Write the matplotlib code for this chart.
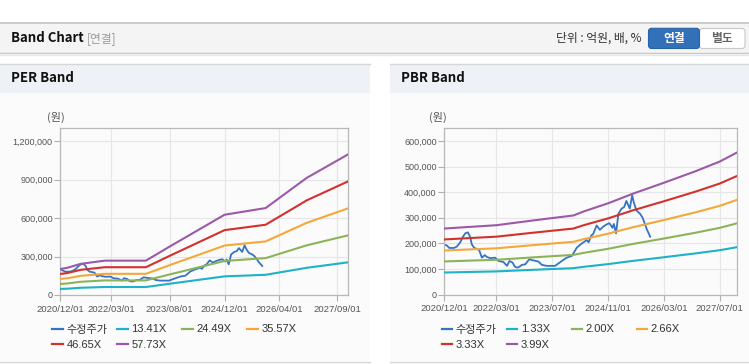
import matplotlib.pyplot as plt
from matplotlib.patches import Rectangle, FancyBboxPatch
from matplotlib.legend import Legend
from matplotlib.ticker import FuncFormatter
import pandas as pd

# 수정주가 (두 차트 공통)
price_dates = ["2020-12-04", "2020-12-25", "2021-01-13", "2021-02-22", "2021-03-19", "2021-04-19",
               "2021-05-10", "2021-06-01", "2021-06-25", "2021-07-16", "2021-07-28", "2021-08-19",
               "2021-09-13", "2021-10-01", "2021-10-25", "2021-11-19", "2021-12-07", "2022-01-07",
               "2022-02-18", "2022-03-19", "2022-05-01", "2022-06-01", "2022-06-22", "2022-07-19",
               "2022-08-10", "2022-09-04", "2022-10-10", "2022-11-07", "2022-12-13", "2023-01-10",
               "2023-03-01", "2023-04-01", "2023-05-13", "2023-07-25", "2023-09-22", "2023-11-04",
               "2023-12-19", "2024-02-01", "2024-03-16", "2024-04-28", "2024-05-13", "2024-06-04",
               "2024-06-22", "2024-07-22", "2024-08-19", "2024-09-19", "2024-10-16", "2024-11-10",
               "2024-12-07", "2024-12-19", "2025-01-07", "2025-01-28", "2025-02-25", "2025-03-19",
               "2025-04-07", "2025-05-07", "2025-05-28", "2025-06-10", "2025-07-04", "2025-08-04",
               "2025-08-25", "2025-09-10", "2025-10-01", "2025-11-01"]
price_values = [195000, 191000, 182000, 182000, 187000, 204000,
                224000, 239000, 243000, 224000, 197000, 182000,
                178000, 174000, 144000, 154000, 147000, 142000,
                144000, 131000, 127000, 112000, 131000, 125000,
                108000, 105000, 116000, 118000, 138000, 134000,
                129000, 116000, 112000, 112000, 131000, 144000,
                151000, 184000, 200000, 213000, 204000, 230000,
                237000, 270000, 253000, 266000, 274000, 279000,
                261000, 276000, 239000, 316000, 336000, 342000,
                366000, 336000, 388000, 362000, 329000, 316000,
                302000, 283000, 257000, 226000]

# PER 밴드
per_dates = ["2020-12-01", "2021-02-01", "2021-06-01", "2022-01-01", "2023-01-01", "2023-05-01",
             "2023-08-01", "2024-07-01", "2024-12-01", "2025-12-01", "2026-12-01", "2027-12-01"]
per_labels = ["13.41X", "24.49X", "35.57X", "46.65X", "57.73X"]
per_1341 = [47200, 49200, 56400, 62300, 62300, 76700, 87800, 127300, 145400, 157500, 212100, 254400]
per_2449 = [86100, 89900, 103100, 113700, 113700, 140000, 160300, 232500, 265600, 287600, 387300, 464500]
per_3557 = [125100, 130600, 149700, 165100, 165100, 203300, 232900, 337700, 385700, 417800, 562600, 674700]
per_4665 = [164000, 171300, 196400, 216600, 216600, 266700, 305500, 442800, 505900, 547900, 737800, 884900]
per_5773 = [203000, 212000, 243000, 268000, 268000, 330000, 378000, 548000, 626000, 678000, 913000, 1095000]
per_ticks = ["2020/12/01", "2022/03/01", "2023/08/01", "2024/12/01", "2026/04/01", "2027/09/01"]

# PBR 밴드
pbr_dates = ["2020-12-01", "2021-08-01", "2022-03-01", "2022-12-01", "2023-07-01", "2024-01-01",
             "2024-04-01", "2024-11-01", "2025-06-01", "2026-03-01", "2026-12-01", "2027-07-01",
             "2027-12-01"]
pbr_labels = ["1.33X", "2.00X", "2.66X", "3.33X", "3.99X"]
pbr_133 = [86000, 88300, 90300, 95700, 99700, 103000, 108300, 119000, 131300, 145700, 160700, 173300, 185300]
pbr_200 = [129300, 132800, 135800, 143900, 149900, 154900, 162900, 178900, 197500, 219000, 241600, 260700, 278700]
pbr_266 = [172000, 176700, 180700, 191300, 199300, 206000, 216700, 238000, 262700, 291300, 321300, 346700, 370700]
pbr_333 = [215300, 221200, 226200, 239500, 249500, 257900, 271200, 298000, 328800, 364700, 402300, 434000, 464000]
pbr_399 = [258000, 265000, 271000, 287000, 299000, 309000, 325000, 357000, 394000, 437000, 482000, 520000, 556000]
pbr_ticks = ["2020/12/01", "2022/03/01", "2023/07/01", "2024/11/01", "2026/03/01", "2027/07/01"]

colors = ["#1eb1c7", "#8cb35a", "#f5a83a", "#d2312c", "#9c59a8"]
price_color = "#3574c4"
W, H = 749, 364
kfont = "Noto Sans CJK KR"
lfont = ["Liberation Sans", "Noto Sans CJK KR"]

fig = plt.figure(figsize=(W / 100, H / 100), dpi=100)
fig.patch.set_facecolor("white")

# 배경 (픽셀 좌표)
bg = fig.add_axes([0, 0, 1, 1], zorder=0)
bg.set_xlim(0, W)
bg.set_ylim(H, 0)
bg.axis("off")

bg.add_patch(Rectangle((0, 23), W, 30, facecolor="#f4f4f4", edgecolor="none"))
bg.plot([0, W], [22.5, 22.5], color="#c4c4c4", lw=1.2)
bg.plot([0, W], [53.3, 53.3], color="#c8c8c8", lw=1.0)
bg.plot([0, W], [54.5, 54.5], color="#e6e6e6", lw=1.0)
bg.text(11, 38.5, "Band Chart", fontsize=9.5, fontweight="bold", family=kfont, va="center", color="#111")
bg.text(87, 38.5, "[연결]", fontsize=8.5, family=kfont, va="center", color="#9a9a9a")
bg.text(642, 38.5, "단위 : 억원, 배, %", fontsize=8.5, family=kfont, va="center", ha="right", color="#333")
bg.add_patch(FancyBboxPatch((699.5, 28.5), 45.5, 20, boxstyle="round,pad=0,rounding_size=3",
                            facecolor="white", edgecolor="#c8c8c8", lw=0.8))
bg.add_patch(FancyBboxPatch((648.5, 28.3), 51, 20.2, boxstyle="round,pad=0,rounding_size=3",
                            facecolor="#3271b8", edgecolor="#2a62a6", lw=0.8))
bg.text(674, 38.3, "연결", fontsize=8.5, fontweight="bold", family=kfont, va="center", ha="center", color="white")
bg.text(722, 38.3, "별도", fontsize=8.5, fontweight="bold", family=kfont, va="center", ha="center", color="#666")

# 패널
for x0, x1, title in [(0, 370, "PER Band"), (390, W, "PBR Band")]:
    bg.add_patch(Rectangle((x0, 64), x1 - x0, 29, facecolor="#eef1f6", edgecolor="none"))
    bg.add_patch(Rectangle((x0, 93), x1 - x0, 268, facecolor="#fbfbfb", edgecolor="none"))
    bg.plot([x0, x1], [63.5, 63.5], color="#d6d6d6", lw=1.0)
    bg.plot([x0, x1], [361.5, 361.5], color="#d6d6d6", lw=1.0)
    bg.text(x0 + 11, 78.5, title, fontsize=9.5, fontweight="bold", family=kfont, va="center", color="#111")

bg.text(56, 117.5, "(원)", fontsize=8, family=kfont, va="center", ha="center", color="#555")
bg.text(438, 117.5, "(원)", fontsize=8, family=kfont, va="center", ha="center", color="#555")


def draw_band(rect, band_dates, bands, labels, ymax, yticks, tick_labels, leg_x):
    ax = fig.add_axes(rect, zorder=1)
    ax.set_facecolor("none")
    lines = []
    lines += ax.plot(pd.to_datetime(price_dates), price_values, color=price_color, lw=1.3, zorder=2)
    for vals, c in zip(bands, colors):
        lines += ax.plot(pd.to_datetime(band_dates), vals, color=c, lw=1.5, zorder=3)
    ax.set_xlim(pd.Timestamp("2020-12-01"), pd.Timestamp("2027-12-01"))
    ax.set_ylim(0, ymax)
    ax.set_yticks(yticks)
    ax.yaxis.set_major_formatter(FuncFormatter(lambda v, p: f"{v:,.0f}"))
    ax.set_xticks(pd.to_datetime([t.replace("/", "-") for t in tick_labels]))
    ax.set_xticklabels(tick_labels)
    ax.grid(True, color="#e6e6e6", lw=0.8)
    ax.set_axisbelow(True)
    for s in ax.spines.values():
        s.set_color("#b8b8b8")
        s.set_linewidth(0.9)
    ax.tick_params(axis="both", colors="#b0b0b0", labelcolor="#555", length=4, width=0.8)
    ax.tick_params(axis="y", pad=1.5, labelsize=6.5)
    ax.tick_params(axis="x", pad=3, labelsize=6.8)
    for t in ax.get_xticklabels() + ax.get_yticklabels():
        t.set_family("Liberation Sans")

    # 범례: 항목 폭 65px 고정, 두 줄
    names = ["수정주가"] + labels
    for i, (line, name) in enumerate(zip(lines, names)):
        row, col = (0, i) if i < 4 else (1, i - 4)
        lx = leg_x + col * 65
        ly = 329.5 + row * 15
        leg = Legend(ax, [line], [name], loc="center left",
                     bbox_to_anchor=(lx / W, 1 - ly / H), bbox_transform=fig.transFigure,
                     frameon=False, borderpad=0, borderaxespad=0,
                     handlelength=0.95, handletextpad=0.32,
                     prop={"family": lfont, "size": 8})
        leg.get_texts()[0].set_color("#333")
        leg.get_lines()[0].set_linewidth(1.6)
        ax.add_artist(leg)
    return ax


draw_band([60.3 / W, 1 - 295 / H, 287.4 / W, 166.7 / H], per_dates,
          [per_1341, per_2449, per_3557, per_4665, per_5773], per_labels,
          1300000, [0, 300000, 600000, 900000, 1200000], per_ticks, 52.3)
draw_band([444.3 / W, 1 - 294.5 / H, 293 / W, 166.2 / H], pbr_dates,
          [pbr_133, pbr_200, pbr_266, pbr_333, pbr_399], pbr_labels,
          650000, [0, 100000, 200000, 300000, 400000, 500000, 600000], pbr_ticks, 441.5)

fig.savefig("out.png", dpi=100)
